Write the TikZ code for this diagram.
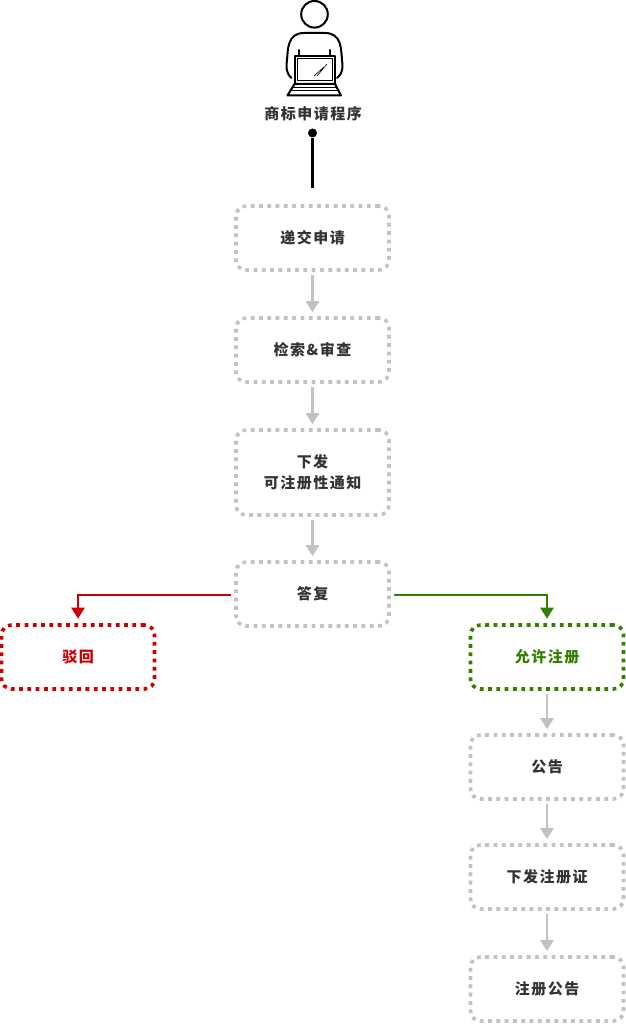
\documentclass[tikz,border=0pt]{standalone}
\usepackage{fontspec}
\setmainfont{Noto Sans CJK SC}[LetterSpace=10]
\usepackage{tikz}
\usetikzlibrary{arrows.meta,positioning}
\definecolor{boxgray}{HTML}{C2C2C2}
\definecolor{rejectred}{HTML}{CC0000}
\definecolor{okgreen}{HTML}{338000}
\definecolor{textgray}{HTML}{333333}
\tikzset{
  stepbox/.style={draw=boxgray,line width=3.6pt,dash pattern=on 3.8pt off 4.5pt,rounded corners=10pt,
    minimum width=153pt,minimum height=64pt,align=center,text=textgray,font=\fontsize{15}{21}\selectfont\bfseries},
  redbox/.style={stepbox,draw=rejectred,text=rejectred},
  greenbox/.style={stepbox,draw=okgreen,text=okgreen},
  flow/.style={-{Triangle[length=11pt,width=13pt]},line width=2.8pt,boxgray,shorten <=3pt,shorten >=4pt},
  branch/.style={-{Triangle[length=11pt,width=13pt]},line width=2.4pt,shorten <=3.5pt,shorten >=4.5pt},
  icon/.style={black,line width=2pt,line join=round,line cap=round}
}
\begin{document}
\begin{tikzpicture}[x=1pt,y=1pt]
  \useasboundingbox (0,0) rectangle (625,-1024);
  % person with laptop
  \draw[icon] (314.5,-14.3) circle (13.3);
  \draw[icon] (291.5,-78) .. controls (286,-73) and (286,-68) .. (287,-60) .. controls (288,-50) and (287,-33) .. (304,-33)
    -- (325,-33) .. controls (342,-33) and (341,-50) .. (342,-60) .. controls (343,-68) and (343,-73) .. (337,-78);
  \draw[icon] (298.5,-50) -- (298.5,-56) (330,-50) -- (330,-56);
  \draw[icon,fill=white] (294.5,-84) -- (294.5,-56) -- (335,-56) -- (335,-84);
  \draw[icon,line width=1pt] (297,-59) rectangle (332.5,-81);
  \draw[icon,line width=.6pt] (314,-76) -- (324,-67) (317,-76) -- (327,-64);
  \draw[icon] (294.5,-84) -- (287.5,-95.5) -- (341,-95.5) -- (335,-84) -- cycle;
  \draw[icon,line width=1pt] (292,-87.5) -- (337,-87.5) (290,-91) -- (339,-91);
  \node[text=textgray,font=\fontsize{15}{18}\selectfont\bfseries] (title) at (313,-114) {商标申请程序};
  \node[circle,fill=black,inner sep=0pt,minimum size=9pt] (start) at (312.5,-133) {};
  % main column
  \node[stepbox] (submit) at (312.5,-238) {递交申请};
  \node[stepbox] (search) [below=112pt of submit.center,anchor=center] {检索\&审查};
  \node[stepbox,minimum height=85pt] (notice) [below=122.5pt of search.center,anchor=center] {下发\\可注册性通知};
  \node[stepbox] (answer) [below=121.5pt of notice.center,anchor=center] {答复};
  % branches
  \node[redbox] (reject) at (78,-657) {驳回};
  \node[greenbox] (allow) at (547,-657) {允许注册};
  \node[stepbox] (publish) [below=110pt of allow.center,anchor=center] {公告};
  \node[stepbox] (issue) [below=110pt of publish.center,anchor=center] {下发注册证};
  \node[stepbox] (regpub) [below=112pt of issue.center,anchor=center] {注册公告};
  \draw[black,line width=2.4pt,shorten >=16pt] (start) -- (submit);
  \draw[flow] (submit) -- (search);
  \draw[flow] (search) -- (notice);
  \draw[flow] (notice) -- (answer);
  \draw[flow] (allow) -- (publish);
  \draw[flow] (publish) -- (issue);
  \draw[flow] (issue) -- (regpub);
  \draw[branch,rejectred] ([yshift=-1pt]answer.west) -| (reject);
  \draw[branch,okgreen] ([yshift=-1pt]answer.east) -| (allow);
\end{tikzpicture}
\end{document}
